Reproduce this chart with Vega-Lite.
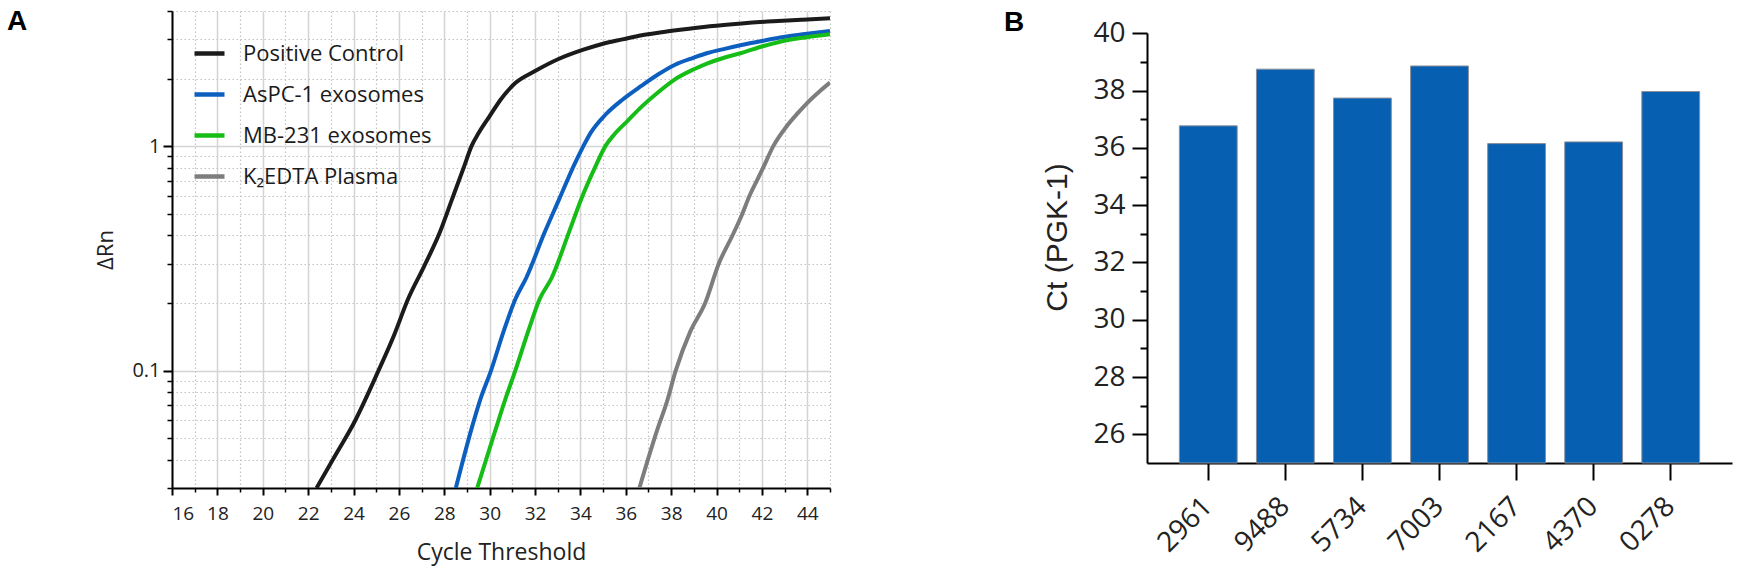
{
  "$schema": "https://vega.github.io/schema/vega-lite/v6.json",
  "padding": {"left": 7, "top": 8, "right": 5, "bottom": 10},
  "background": "white",
  "spacing": 171,
  "hconcat": [
    {
      "width": 658,
      "height": 477,
      "title": {"text": "A", "anchor": "start", "frame": "group", "dx": -165, "offset": -48, "baseline": "alphabetic",
        "font": "Liberation Sans", "fontSize": 28, "fontWeight": "bold", "color": "black"},
      "data": {"values": [
        {"sample": "Positive Control", "cycle": 22.37, "rn": 0.03},
        {"sample": "Positive Control", "cycle": 23.2, "rn": 0.042},
        {"sample": "Positive Control", "cycle": 24.0, "rn": 0.058},
        {"sample": "Positive Control", "cycle": 25.1, "rn": 0.1},
        {"sample": "Positive Control", "cycle": 25.8, "rn": 0.145},
        {"sample": "Positive Control", "cycle": 26.4, "rn": 0.208},
        {"sample": "Positive Control", "cycle": 27.1, "rn": 0.29},
        {"sample": "Positive Control", "cycle": 27.8, "rn": 0.412},
        {"sample": "Positive Control", "cycle": 28.34, "rn": 0.579},
        {"sample": "Positive Control", "cycle": 28.88, "rn": 0.815},
        {"sample": "Positive Control", "cycle": 29.2, "rn": 1.0},
        {"sample": "Positive Control", "cycle": 29.52, "rn": 1.146},
        {"sample": "Positive Control", "cycle": 30.0, "rn": 1.36},
        {"sample": "Positive Control", "cycle": 30.48, "rn": 1.61},
        {"sample": "Positive Control", "cycle": 31.13, "rn": 1.91},
        {"sample": "Positive Control", "cycle": 32.0, "rn": 2.16},
        {"sample": "Positive Control", "cycle": 33.06, "rn": 2.45},
        {"sample": "Positive Control", "cycle": 34.13, "rn": 2.69},
        {"sample": "Positive Control", "cycle": 35.0, "rn": 2.86},
        {"sample": "Positive Control", "cycle": 35.85, "rn": 2.99},
        {"sample": "Positive Control", "cycle": 36.7, "rn": 3.12},
        {"sample": "Positive Control", "cycle": 37.5, "rn": 3.21},
        {"sample": "Positive Control", "cycle": 38.4, "rn": 3.3},
        {"sample": "Positive Control", "cycle": 39.7, "rn": 3.42},
        {"sample": "Positive Control", "cycle": 41.1, "rn": 3.52},
        {"sample": "Positive Control", "cycle": 42.5, "rn": 3.6},
        {"sample": "Positive Control", "cycle": 43.8, "rn": 3.66},
        {"sample": "Positive Control", "cycle": 45, "rn": 3.71},
        {"sample": "AsPC-1 exosomes", "cycle": 28.51, "rn": 0.03},
        {"sample": "AsPC-1 exosomes", "cycle": 29.2, "rn": 0.055},
        {"sample": "AsPC-1 exosomes", "cycle": 29.6, "rn": 0.075},
        {"sample": "AsPC-1 exosomes", "cycle": 30.06, "rn": 0.1},
        {"sample": "AsPC-1 exosomes", "cycle": 30.6, "rn": 0.148},
        {"sample": "AsPC-1 exosomes", "cycle": 31.13, "rn": 0.208},
        {"sample": "AsPC-1 exosomes", "cycle": 31.62, "rn": 0.26},
        {"sample": "AsPC-1 exosomes", "cycle": 32.42, "rn": 0.412},
        {"sample": "AsPC-1 exosomes", "cycle": 33.06, "rn": 0.579},
        {"sample": "AsPC-1 exosomes", "cycle": 33.7, "rn": 0.815},
        {"sample": "AsPC-1 exosomes", "cycle": 34.13, "rn": 1.0},
        {"sample": "AsPC-1 exosomes", "cycle": 34.45, "rn": 1.146},
        {"sample": "AsPC-1 exosomes", "cycle": 35.1, "rn": 1.38},
        {"sample": "AsPC-1 exosomes", "cycle": 35.85, "rn": 1.61},
        {"sample": "AsPC-1 exosomes", "cycle": 36.7, "rn": 1.86},
        {"sample": "AsPC-1 exosomes", "cycle": 37.4, "rn": 2.08},
        {"sample": "AsPC-1 exosomes", "cycle": 38.15, "rn": 2.3},
        {"sample": "AsPC-1 exosomes", "cycle": 39.0, "rn": 2.48},
        {"sample": "AsPC-1 exosomes", "cycle": 39.6, "rn": 2.6},
        {"sample": "AsPC-1 exosomes", "cycle": 40.4, "rn": 2.72},
        {"sample": "AsPC-1 exosomes", "cycle": 41.1, "rn": 2.82},
        {"sample": "AsPC-1 exosomes", "cycle": 42.0, "rn": 2.94},
        {"sample": "AsPC-1 exosomes", "cycle": 42.8, "rn": 3.05},
        {"sample": "AsPC-1 exosomes", "cycle": 43.9, "rn": 3.16},
        {"sample": "AsPC-1 exosomes", "cycle": 45, "rn": 3.26},
        {"sample": "MB-231 exosomes", "cycle": 29.45, "rn": 0.03},
        {"sample": "MB-231 exosomes", "cycle": 30.27, "rn": 0.055},
        {"sample": "MB-231 exosomes", "cycle": 30.7, "rn": 0.075},
        {"sample": "MB-231 exosomes", "cycle": 31.13, "rn": 0.1},
        {"sample": "MB-231 exosomes", "cycle": 31.7, "rn": 0.15},
        {"sample": "MB-231 exosomes", "cycle": 32.2, "rn": 0.208},
        {"sample": "MB-231 exosomes", "cycle": 32.74, "rn": 0.26},
        {"sample": "MB-231 exosomes", "cycle": 33.49, "rn": 0.412},
        {"sample": "MB-231 exosomes", "cycle": 34.03, "rn": 0.579},
        {"sample": "MB-231 exosomes", "cycle": 34.67, "rn": 0.815},
        {"sample": "MB-231 exosomes", "cycle": 35.1, "rn": 1.0},
        {"sample": "MB-231 exosomes", "cycle": 35.5, "rn": 1.13},
        {"sample": "MB-231 exosomes", "cycle": 36.06, "rn": 1.29},
        {"sample": "MB-231 exosomes", "cycle": 36.7, "rn": 1.5},
        {"sample": "MB-231 exosomes", "cycle": 37.4, "rn": 1.73},
        {"sample": "MB-231 exosomes", "cycle": 38.15, "rn": 1.98},
        {"sample": "MB-231 exosomes", "cycle": 39.0, "rn": 2.2},
        {"sample": "MB-231 exosomes", "cycle": 39.6, "rn": 2.34},
        {"sample": "MB-231 exosomes", "cycle": 40.4, "rn": 2.49},
        {"sample": "MB-231 exosomes", "cycle": 41.1, "rn": 2.6},
        {"sample": "MB-231 exosomes", "cycle": 42.0, "rn": 2.78},
        {"sample": "MB-231 exosomes", "cycle": 42.8, "rn": 2.92},
        {"sample": "MB-231 exosomes", "cycle": 43.9, "rn": 3.05},
        {"sample": "MB-231 exosomes", "cycle": 45, "rn": 3.15},
        {"sample": "K₂EDTA Plasma", "cycle": 36.6, "rn": 0.03},
        {"sample": "K₂EDTA Plasma", "cycle": 37.4, "rn": 0.055},
        {"sample": "K₂EDTA Plasma", "cycle": 37.8, "rn": 0.072},
        {"sample": "K₂EDTA Plasma", "cycle": 38.2, "rn": 0.1},
        {"sample": "K₂EDTA Plasma", "cycle": 38.85, "rn": 0.15},
        {"sample": "K₂EDTA Plasma", "cycle": 39.5, "rn": 0.2},
        {"sample": "K₂EDTA Plasma", "cycle": 40.1, "rn": 0.3},
        {"sample": "K₂EDTA Plasma", "cycle": 40.7, "rn": 0.4},
        {"sample": "K₂EDTA Plasma", "cycle": 41.1, "rn": 0.49},
        {"sample": "K₂EDTA Plasma", "cycle": 41.45, "rn": 0.6},
        {"sample": "K₂EDTA Plasma", "cycle": 41.8, "rn": 0.71},
        {"sample": "K₂EDTA Plasma", "cycle": 42.05, "rn": 0.8},
        {"sample": "K₂EDTA Plasma", "cycle": 42.5, "rn": 1.0},
        {"sample": "K₂EDTA Plasma", "cycle": 43.1, "rn": 1.23},
        {"sample": "K₂EDTA Plasma", "cycle": 43.6, "rn": 1.41},
        {"sample": "K₂EDTA Plasma", "cycle": 44.0, "rn": 1.56},
        {"sample": "K₂EDTA Plasma", "cycle": 44.5, "rn": 1.74},
        {"sample": "K₂EDTA Plasma", "cycle": 45, "rn": 1.92}
      ]},
      "layer": [
        {
          "mark": {"type": "point", "opacity": 0},
          "encoding": {
            "x": {"field": "cycle", "type": "quantitative",
              "scale": {"domain": [16, 45], "nice": false, "zero": false},
              "axis": {"orient": "bottom", "values": [17, 19, 21, 23, 25, 27, 29, 31, 33, 35, 37, 39, 41, 43, 45],
                "labels": false, "title": null, "domain": false, "tickSize": 4, "tickWidth": 1.5,
                "grid": true, "gridDash": [1.5, 2.5], "gridColor": "#c2c2c2", "gridWidth": 1.2}},
            "y": {"field": "rn", "type": "quantitative",
              "scale": {"type": "log", "domain": [0.03, 4], "nice": false},
              "axis": {"orient": "left", "values": [0.03, 0.04, 0.05, 0.06, 0.07, 0.08, 0.09, 0.2, 0.3, 0.4, 0.5, 0.6, 0.7, 0.8, 0.9, 2, 3, 4],
                "labels": false, "title": null, "domain": false, "tickSize": 5, "tickWidth": 1.5,
                "grid": true, "gridDash": [1.5, 2.5], "gridColor": "#c2c2c2", "gridWidth": 1.2}}
          }
        },
        {
          "mark": {"type": "line", "strokeWidth": 4, "clip": true, "interpolate": "monotone"},
          "encoding": {
            "x": {"field": "cycle", "type": "quantitative",
              "scale": {"domain": [16, 45], "nice": false, "zero": false},
              "axis": {"orient": "bottom", "values": [16, 18, 20, 22, 24, 26, 28, 30, 32, 34, 36, 38, 40, 42, 44],
                "title": "Cycle Threshold", "titleFont": "Open Sans", "titleFontSize": 23, "titlePadding": 18,
                "labelFont": "Open Sans", "labelFontSize": 19, "labelPadding": 9,
                "tickSize": 7, "tickWidth": 2, "domainWidth": 2,
                "grid": true, "gridColor": "#d4d4d4", "gridWidth": 1.5}},
            "y": {"field": "rn", "type": "quantitative",
              "scale": {"type": "log", "domain": [0.03, 4], "nice": false},
              "axis": {"orient": "left", "values": [0.1, 1], "format": "~g",
                "title": "ΔRn", "titleFont": "Open Sans", "titleFontSize": 22, "titlePadding": 14,
                "labelFont": "Open Sans", "labelFontSize": 20, "labelPadding": 3,
                "tickSize": 9, "tickWidth": 2, "domainWidth": 2,
                "grid": true, "gridColor": "#d4d4d4", "gridWidth": 1.5}},
            "color": {"field": "sample", "type": "nominal",
              "scale": {"domain": ["Positive Control", "AsPC-1 exosomes", "MB-231 exosomes", "K₂EDTA Plasma"],
                "range": ["#1b1b1b", "#0d5fbf", "#17bd17", "#7d7d7d"]},
              "legend": {"orient": "none", "legendX": 20, "legendY": 25, "title": null, "padding": 0,
                "symbolType": "stroke", "symbolSize": 900, "symbolStrokeWidth": 4.5,
                "labelFont": "Open Sans", "labelFontSize": 22, "labelColor": "#1a1a1a", "labelOffset": 16,
                "labelLimit": 400, "rowPadding": 12}}
          }
        }
      ],
      "resolve": {"axis": {"x": "independent", "y": "independent"}}
    },
    {
      "width": 585,
      "height": 452,
      "title": {"text": "B", "anchor": "start", "frame": "group", "dx": -143, "offset": -48, "baseline": "alphabetic",
        "font": "Liberation Sans", "fontSize": 28, "fontWeight": "bold", "color": "black"},
      "data": {"values": [
        {"id": "2961", "ct": 36.77},
        {"id": "9488", "ct": 38.75},
        {"id": "5734", "ct": 37.74},
        {"id": "7003", "ct": 38.86},
        {"id": "2167", "ct": 36.15},
        {"id": "4370", "ct": 36.21},
        {"id": "0278", "ct": 37.97}
      ]},
      "layer": [
        {
          "mark": {"type": "bar", "color": "#065fb0", "stroke": "#8a8f99", "strokeWidth": 1},
          "encoding": {
            "x": {"field": "id", "type": "nominal", "sort": null,
              "scale": {"paddingInner": 0.25, "paddingOuter": 0.42},
              "axis": {"title": null, "labelAngle": -45, "labelAlign": "right", "labelBaseline": "middle",
                "labelFont": "Open Sans", "labelFontSize": 28,
                "labelPadding": 22, "tickSize": 17, "tickWidth": 2, "domainWidth": 2}},
            "y": {"field": "ct", "type": "quantitative",
              "scale": {"domain": [25, 40.78], "nice": false, "zero": false},
              "axis": {"orient": "left", "values": [26, 28, 30, 32, 34, 36, 38, 40],
                "title": "Ct (PGK-1)", "titleFont": "Liberation Sans", "titleFontSize": 30, "titlePadding": 20,
                "labelFont": "Open Sans", "labelFontSize": 28, "labelPadding": 7,
                "tickSize": 15, "tickWidth": 2, "domainWidth": 2, "domainDash": [430, 100], "grid": false}},
            "y2": {"datum": 25}
          }
        },
        {
          "mark": {"type": "rule", "opacity": 0},
          "encoding": {
            "y": {"field": "ct", "type": "quantitative",
              "axis": {"orient": "left", "values": [27, 29, 31, 33, 35, 37, 39], "labels": false, "title": null,
                "domain": false, "tickSize": 7, "tickWidth": 2, "grid": false}}
          }
        }
      ],
      "resolve": {"axis": {"y": "independent"}}
    }
  ],
  "config": {
    "view": {"stroke": null},
    "axis": {"domainColor": "black", "tickColor": "black", "labelColor": "#222222", "titleColor": "#222222", "titleFontWeight": "normal"}
  }
}
